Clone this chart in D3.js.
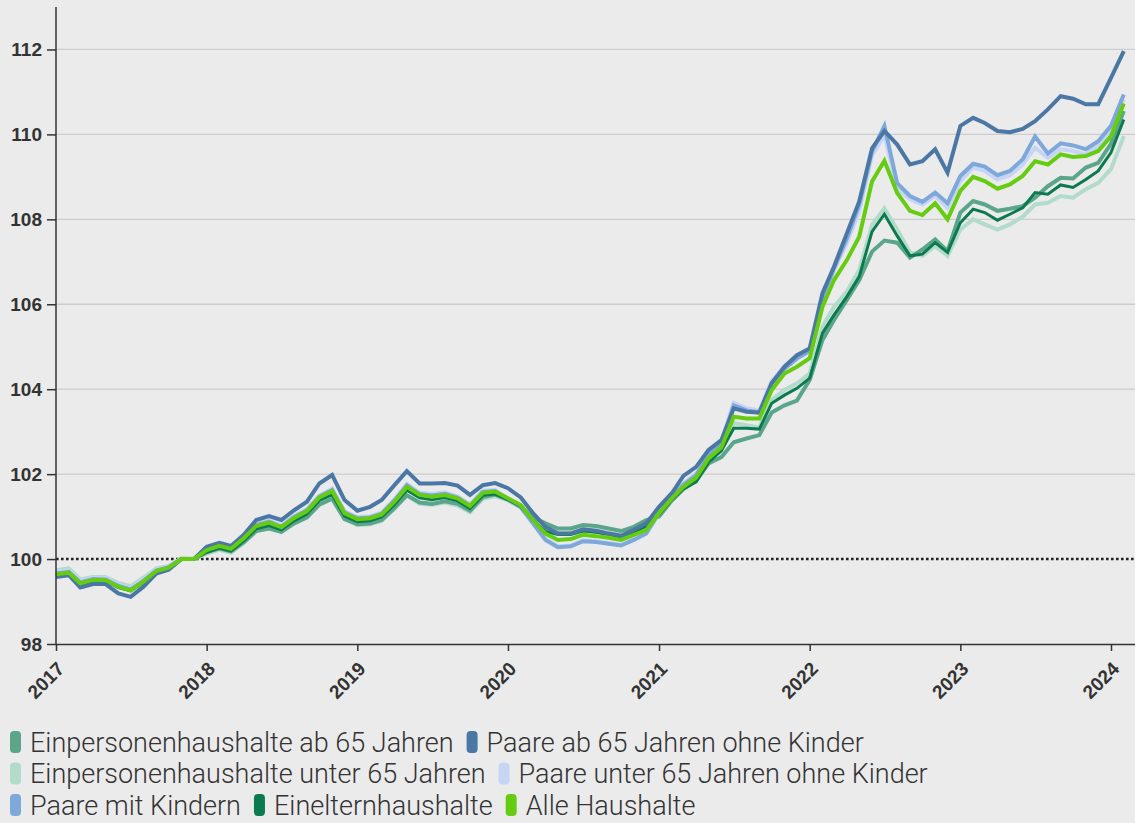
<!DOCTYPE html>
<html>
<head>
<meta charset="utf-8">
<script src="https://cdn.jsdelivr.net/npm/d3@7"></script>
<style>
  html, body { margin: 0; padding: 0; background: #ebebeb; }
  svg { display: block; font-family: Roboto, "Noto Sans", sans-serif; }
</style>
</head>
<body>
<div id="chart"></div>
<script>
// monthly index values, Jan 2017 - Feb 2024
var startMonth = new Date(2017, 0, 1);
var endMonth = new Date(2024, 1, 1);
var yearTicks = [2017, 2018, 2019, 2020, 2021, 2022, 2023, 2024];
var yTicks = [98, 100, 102, 104, 106, 108, 110, 112];

var seriesNames = [
  "Einpersonenhaushalte ab 65 Jahren",
  "Paare ab 65 Jahren ohne Kinder",
  "Einpersonenhaushalte unter 65 Jahren",
  "Paare unter 65 Jahren ohne Kinder",
  "Paare mit Kindern",
  "Einelternhaushalte",
  "Alle Haushalte"
];
var seriesColors = ["#5ba68a", "#4a77a4", "#b2dbcb", "#c6d4f6", "#7ea8da", "#0c7a4f", "#66cc11"];

var einAb65 = [
  99.62, 99.66, 99.42, 99.50, 99.50, 99.36, 99.28, 99.48, 99.72, 99.80, 100.0, 100.0,
  100.16, 100.25, 100.18, 100.40, 100.66, 100.72, 100.64, 100.84, 100.98, 101.28, 101.42, 100.94,
  100.82, 100.84, 100.92, 101.20, 101.50, 101.33, 101.30, 101.36, 101.30, 101.14, 101.46, 101.52,
  101.40, 101.25, 100.98, 100.84, 100.72, 100.72, 100.80, 100.78, 100.72, 100.66, 100.76, 100.92,
  101.00, 101.38, 101.65, 101.85, 102.25, 102.40, 102.75, 102.84, 102.92, 103.45, 103.62, 103.73,
  104.22, 105.16, 105.63, 106.10, 106.57, 107.24, 107.50, 107.45, 107.10, 107.29, 107.53, 107.25,
  108.16, 108.43, 108.35, 108.20, 108.25, 108.31, 108.51, 108.78, 108.98, 108.96, 109.22, 109.33,
  109.78, 110.55
];
var paareAb65 = [
  99.58, 99.62, 99.33, 99.41, 99.41, 99.19, 99.11, 99.35, 99.66, 99.75, 100.0, 100.0,
  100.29, 100.38, 100.31, 100.57, 100.92, 101.01, 100.92, 101.15, 101.35, 101.78, 101.98, 101.39,
  101.14, 101.23, 101.39, 101.74, 102.07, 101.78, 101.78, 101.79, 101.73, 101.51, 101.74, 101.79,
  101.67, 101.45, 101.09, 100.76, 100.60, 100.60, 100.70, 100.67, 100.60, 100.55, 100.69, 100.84,
  101.23, 101.55, 101.96, 102.17, 102.57, 102.80, 103.55, 103.47, 103.45, 104.14, 104.53, 104.80,
  104.96, 106.26, 106.89, 107.67, 108.42, 109.67, 110.08, 109.76, 109.29, 109.37, 109.65, 109.10,
  110.20, 110.39, 110.27, 110.08, 110.05, 110.13, 110.31, 110.59, 110.90, 110.84, 110.71, 110.71,
  111.33, 111.96
];
var einUnter65 = [
  99.74, 99.78, 99.52, 99.58, 99.58, 99.44, 99.36, 99.56, 99.78, 99.84, 100.02, 100.0,
  100.13, 100.22, 100.15, 100.38, 100.66, 100.74, 100.63, 100.84, 100.98, 101.32, 101.45, 100.96,
  100.80, 100.82, 100.90, 101.18, 101.50, 101.30, 101.28, 101.33, 101.26, 101.10, 101.42, 101.48,
  101.38, 101.22, 100.92, 100.70, 100.62, 100.62, 100.70, 100.67, 100.62, 100.56, 100.68, 100.82,
  101.05, 101.40, 101.68, 101.88, 102.32, 102.58, 103.20, 103.15, 103.10, 103.75, 103.98, 104.14,
  104.37, 105.47, 105.94, 106.30, 106.81, 107.87, 108.26, 107.76, 107.22, 107.14, 107.37, 107.14,
  107.76, 108.00, 107.88, 107.76, 107.88, 108.06, 108.35, 108.39, 108.55, 108.51, 108.71, 108.86,
  109.18, 109.96
];
var paareUnter65 = [
  99.70, 99.74, 99.49, 99.56, 99.56, 99.41, 99.32, 99.52, 99.76, 99.83, 100.02, 100.01,
  100.25, 100.35, 100.28, 100.53, 100.83, 100.91, 100.80, 101.02, 101.18, 101.50, 101.66, 101.13,
  100.99, 101.01, 101.10, 101.41, 101.77, 101.56, 101.53, 101.57, 101.48, 101.29, 101.61, 101.63,
  101.42, 101.24, 100.88, 100.48, 100.30, 100.32, 100.45, 100.42, 100.38, 100.34, 100.47, 100.62,
  101.10, 101.48, 101.78, 102.02, 102.50, 102.78, 103.68, 103.55, 103.50, 104.20, 104.55, 104.78,
  104.98, 106.10, 106.80, 107.45, 108.20, 109.50, 109.98, 108.72, 108.47, 108.35, 108.55, 108.27,
  108.90, 109.22, 109.14, 108.94, 109.04, 109.29, 109.69, 109.45, 109.65, 109.61, 109.53, 109.73,
  110.12, 110.82
];
var paareKinder = [
  99.66, 99.70, 99.45, 99.53, 99.52, 99.37, 99.28, 99.48, 99.73, 99.81, 100.0, 100.0,
  100.22, 100.32, 100.25, 100.50, 100.80, 100.88, 100.76, 100.99, 101.15, 101.47, 101.63, 101.10,
  100.96, 100.98, 101.07, 101.38, 101.74, 101.53, 101.50, 101.54, 101.45, 101.26, 101.58, 101.60,
  101.40, 101.22, 100.85, 100.45, 100.28, 100.30, 100.42, 100.40, 100.36, 100.32, 100.45, 100.60,
  101.08, 101.45, 101.75, 101.98, 102.45, 102.72, 103.62, 103.50, 103.45, 104.15, 104.48, 104.72,
  104.90, 106.15, 106.85, 107.55, 108.35, 109.60, 110.20, 108.85, 108.55, 108.41, 108.63, 108.38,
  109.02, 109.31, 109.24, 109.04, 109.14, 109.41, 109.95, 109.55, 109.79, 109.74, 109.65, 109.84,
  110.20, 110.94
];
var eineltern = [
  99.62, 99.66, 99.41, 99.49, 99.49, 99.33, 99.25, 99.45, 99.70, 99.79, 100.0, 100.0,
  100.16, 100.26, 100.19, 100.43, 100.71, 100.79, 100.69, 100.90, 101.06, 101.38, 101.52, 101.01,
  100.88, 100.90, 100.99, 101.28, 101.62, 101.44, 101.40, 101.45, 101.37, 101.19, 101.50, 101.53,
  101.40, 101.24, 100.92, 100.65, 100.58, 100.58, 100.66, 100.63, 100.58, 100.52, 100.63, 100.78,
  101.05, 101.40, 101.65, 101.82, 102.28, 102.55, 103.08, 103.08, 103.06, 103.67, 103.86, 104.02,
  104.26, 105.32, 105.75, 106.18, 106.65, 107.71, 108.12, 107.61, 107.14, 107.18, 107.45, 107.22,
  107.92, 108.24, 108.16, 107.98, 108.12, 108.27, 108.63, 108.59, 108.81, 108.75, 108.94, 109.14,
  109.57, 110.35
];
var alle = [
  99.64, 99.68, 99.43, 99.51, 99.51, 99.35, 99.26, 99.47, 99.72, 99.80, 100.0, 100.0,
  100.21, 100.31, 100.24, 100.49, 100.78, 100.86, 100.75, 100.97, 101.13, 101.45, 101.60, 101.08,
  100.94, 100.96, 101.05, 101.35, 101.70, 101.51, 101.47, 101.51, 101.43, 101.25, 101.56, 101.59,
  101.43, 101.27, 100.92, 100.60, 100.45, 100.47, 100.57, 100.54, 100.50, 100.45, 100.57, 100.68,
  101.08, 101.43, 101.70, 101.92, 102.37, 102.63, 103.35, 103.31, 103.31, 103.98, 104.37, 104.53,
  104.73, 105.94, 106.57, 107.04, 107.59, 108.89, 109.38, 108.62, 108.20, 108.10, 108.38, 108.00,
  108.67, 109.00, 108.90, 108.72, 108.82, 109.02, 109.37, 109.29, 109.53, 109.47, 109.49, 109.61,
  109.96, 110.73
];
var seriesValues = [einAb65, paareAb65, einUnter65, paareUnter65, paareKinder, eineltern, alle];
var seriesWidths = [4, 4, 4, 4, 4, 3, 4];
// drawing order, bottom to top
var drawOrder = [2, 3, 0, 4, 5, 1, 6];
// legend rows
var legendRows = [[0, 1], [2, 3], [4, 5, 6]];

var width = 1135, height = 823;
var margin = { top: 7, right: 0, bottom: 179, left: 56 };

var svg = d3.select("#chart").append("svg")
  .attr("width", width).attr("height", height);

svg.append("rect").attr("width", width).attr("height", height).attr("fill", "#ebebeb");

var months = d3.timeMonth.range(startMonth, d3.timeMonth.offset(endMonth, 1));

// year 2017..2024 spans 56..1111, axis runs on to the right edge
var x0 = d3.scaleTime()
  .domain([new Date(2017, 0, 1), new Date(2024, 0, 1)])
  .range([margin.left, 1111]);
var xScale = d3.scaleTime()
  .domain([new Date(2017, 0, 1), x0.invert(width)])
  .range([margin.left, width]);
var yScale = d3.scaleLinear()
  .domain([98, 113])
  .range([height - margin.bottom, margin.top]);

//Gridlines
svg.append("g")
  .selectAll("line")
  .data(yTicks.filter(function(d) { return d !== 98 && d !== 100; }))
  .join("line")
  .attr("x1", margin.left).attr("x2", width)
  .attr("y1", function(d) { return yScale(d); })
  .attr("y2", function(d) { return yScale(d); })
  .attr("stroke", "#cdcdcd").attr("stroke-width", 1.3);

//Dotted 100 line
svg.append("line")
  .attr("x1", margin.left).attr("x2", width)
  .attr("y1", yScale(100)).attr("y2", yScale(100))
  .attr("stroke", "#222").attr("stroke-width", 2.6)
  .attr("stroke-dasharray", "2.6,2.4");

//Lines
var line = d3.line()
  .x(function(d, i) { return xScale(months[i]); })
  .y(function(d) { return yScale(d); });

drawOrder.forEach(function(k) {
  svg.append("path")
    .datum(seriesValues[k])
    .attr("fill", "none")
    .attr("stroke", seriesColors[k])
    .attr("stroke-width", seriesWidths[k])
    .attr("stroke-linejoin", "miter")
    .attr("d", line);
});

//Y axis
var yAxis = svg.append("g")
  .attr("transform", "translate(" + margin.left + ",0)")
  .call(d3.axisLeft(yScale).tickValues(yTicks).tickSize(9).tickPadding(5).tickSizeOuter(0));
yAxis.select(".domain").attr("stroke", "#333").attr("stroke-width", 1.5)
  .attr("d", "M0," + margin.top + "V" + (height - margin.bottom));
yAxis.selectAll(".tick line").attr("stroke", "#333").attr("stroke-width", 1.5);
yAxis.selectAll("text")
  .attr("fill", "#333").style("font-size", "19px").style("font-weight", "700");

//X axis
var xAxis = svg.append("g")
  .attr("transform", "translate(0," + (height - margin.bottom) + ")")
  .call(d3.axisBottom(xScale)
    .tickValues(yearTicks.map(function(y) { return new Date(y, 0, 1); }))
    .tickFormat(d3.timeFormat("%Y"))
    .tickSize(7).tickSizeOuter(0));
xAxis.select(".domain").attr("stroke", "#333").attr("stroke-width", 1.5);
xAxis.selectAll(".tick line").attr("stroke", "#333").attr("stroke-width", 1.5);
xAxis.selectAll("text")
  .attr("fill", "#333").style("font-size", "19px").style("font-weight", "700")
  .style("text-anchor", "end")
  .attr("x", 0).attr("y", 0).attr("dy", "0")
  .attr("transform", "translate(9,26) rotate(-45)");

//Legend
var legend = svg.append("g").style("font-size", "27px").style("font-weight", "300").attr("fill", "#333");
legendRows.forEach(function(row, r) {
  var cx = 10;
  var cy = 742 + r * 31.5;
  row.forEach(function(k) {
    legend.append("rect")
      .attr("x", cx).attr("y", cy - 11).attr("width", 11).attr("height", 22)
      .attr("rx", 4).attr("fill", seriesColors[k]);
    var t = legend.append("text")
      .attr("x", cx + 20).attr("y", cy).attr("dy", "0.36em")
      .text(seriesNames[k]);
    cx += 20 + t.node().getComputedTextLength() + 13;
  });
});
</script>
</body>
</html>
